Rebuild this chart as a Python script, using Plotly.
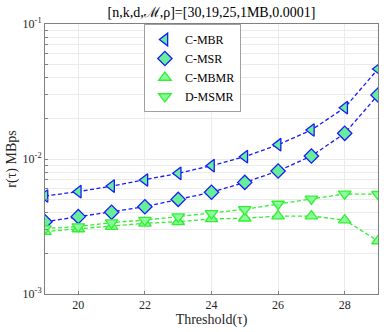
import plotly.graph_objects as go

# ==========================================================
# Threshold vs repair rate
# ==========================================================

threshold = [19, 20, 21, 22, 23, 24, 25, 26, 27, 28, 29]

c_mbr = [0.00532, 0.00573, 0.0063, 0.00699, 0.00783, 0.00893,
         0.0104, 0.01276, 0.0164, 0.024, 0.0464]
c_msr = [0.00343, 0.00374, 0.00403, 0.00443, 0.00502, 0.00567,
         0.00671, 0.00815, 0.01052, 0.0155, 0.0298]
c_mbmr = [0.0029, 0.00303, 0.00316, 0.00334, 0.00343, 0.0036,
          0.00364, 0.00378, 0.00378, 0.00353, 0.00247]
d_msmr = [0.00305, 0.00316, 0.00338, 0.00353, 0.00374, 0.00396,
          0.00424, 0.00464, 0.00506, 0.00551, 0.00548]

# log grid: labelled decades plus unlabelled minor lines
y_ticks = [0.001, 0.002, 0.003, 0.004, 0.005, 0.006, 0.007, 0.008, 0.009,
           0.01, 0.02, 0.03, 0.04, 0.05, 0.06, 0.07, 0.08, 0.09, 0.1]
y_tick_text = ["10<sup>-3</sup>"] + [""] * 8 + ["10<sup>-2</sup>"] + [""] * 8 + ["10<sup>-1</sup>"]

FONT = "Liberation Serif"
BLUE = "#1a1aff"
GREEN = "#33ee33"

fig = go.Figure()

series = [
    ("C-MBR", c_mbr, "triangle-left", BLUE, "#66ee99"),
    ("C-MSR", c_msr, "diamond", BLUE, "#66ee99"),
    ("C-MBMR", c_mbmr, "triangle-up", GREEN, "#88ff99"),
    ("D-MSMR", d_msmr, "triangle-down", GREEN, "#88ff99"),
]

# dashed lines first (no legend), then markers carrying the legend
for name, vals, sym, col, fill in series:
    fig.add_trace(
        go.Scatter(
            x=threshold, y=vals, mode="lines", showlegend=False,
            line=dict(color=col, width=1.3, dash="4px,2.5px"),
            hoverinfo="skip",
        )
    )

for name, vals, sym, col, fill in series:
    fig.add_trace(
        go.Scatter(
            x=threshold,
            y=vals,
            name=name,
            mode="markers",
            marker=dict(symbol=sym, size=11, color=fill,
                        line=dict(color=col, width=1.3)),
        )
    )

fig.update_layout(
    width=388,
    height=332,
    margin=dict(l=45, r=10, t=24, b=38),
    plot_bgcolor="white",
    paper_bgcolor="white",
    font=dict(family=FONT, size=12, color="#262626"),
    title=dict(
        text="[n,k,d,ℳ,ρ]=[30,19,25,1MB,0.0001]",
        x=0.545, xanchor="center", y=0.965, yanchor="middle",
        font=dict(family=FONT, size=14, color="#000000"),
    ),
    legend=dict(
        x=0.297, y=1, xanchor="left", yanchor="top",
        bordercolor="#a0a0a0", borderwidth=1, bgcolor="white",
        font=dict(family=FONT, size=12, color="#000000"),
        tracegroupgap=0, itemwidth=30,
    ),
    xaxis=dict(
        range=[19, 29],
        dtick=2, tick0=20,
        showgrid=True, gridcolor="#ebebeb", gridwidth=1,
        showline=True, linecolor="#808080", mirror=True,
        ticks="inside", ticklen=3, tickcolor="#808080",
        zeroline=False,
        title=dict(text="Threshold(τ)", standoff=1,
                   font=dict(family=FONT, size=14)),
    ),
    yaxis=dict(
        type="log",
        range=[-3, -1],
        tickmode="array",
        tickvals=y_ticks,
        ticktext=y_tick_text,
        showgrid=True, gridcolor="#ebebeb", gridwidth=1,
        showline=True, linecolor="#808080", mirror=True,
        ticks="inside", ticklen=3, tickcolor="#808080",
        zeroline=False,
        title=dict(text="r(τ) MBps", standoff=2,
                   font=dict(family=FONT, size=14)),
    ),
)

fig.write_html(
    "out.html",
    config={"displayModeBar": False},
    post_script="document.body.style.margin='0';",
)
